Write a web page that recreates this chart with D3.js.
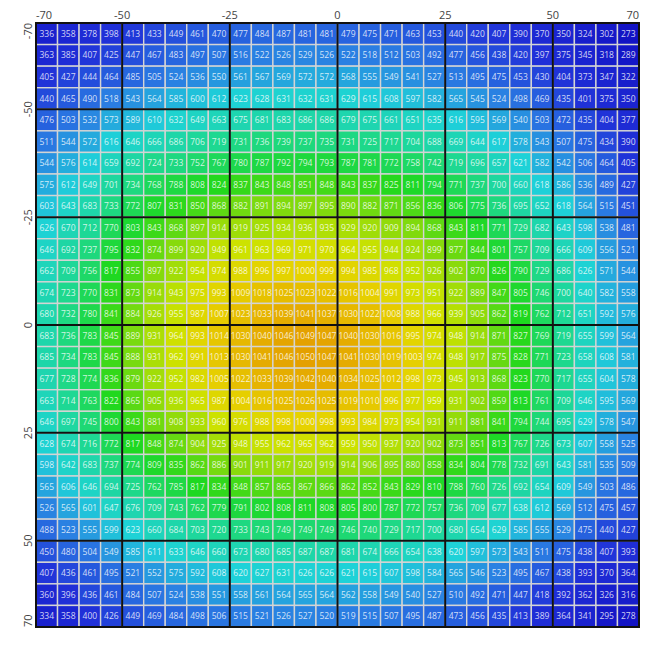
<!DOCTYPE html>
<html>
<head>
<meta charset="utf-8">
<script src="https://cdn.jsdelivr.net/npm/d3@7"></script>
<style>
	body { margin: 0; background: #ffffff; }
	svg { display: block; }
</style>
</head>
<body>
<div id="heat"><svg></svg></div>
<script>
// lower edge of every 5-unit bin, both axes
var x_bins = [-70, -65, -60, -55, -50, -45, -40, -35, -30, -25, -20, -15, -10, -5, 0, 5, 10, 15, 20, 25, 30, 35, 40, 45, 50, 55, 60, 65];
var y_bins = [-70, -65, -60, -55, -50, -45, -40, -35, -30, -25, -20, -15, -10, -5, 0, 5, 10, 15, 20, 25, 30, 35, 40, 45, 50, 55, 60, 65];
var tick_values = [-70, -50, -25, 0, 25, 50, 70];
var major_lines = [-50, -25, 0, 25, 50];

// one array per row, top (-70) to bottom (65)
var row_m70 = [336, 358, 378, 398, 413, 433, 449, 461, 470, 477, 484, 487, 481, 481, 479, 475, 471, 463, 453, 440, 420, 407, 390, 370, 350, 324, 302, 273];
var row_m65 = [363, 385, 407, 425, 447, 467, 483, 497, 507, 516, 522, 526, 529, 526, 522, 518, 512, 503, 492, 477, 456, 438, 420, 397, 375, 345, 318, 289];
var row_m60 = [405, 427, 444, 464, 485, 505, 524, 536, 550, 561, 567, 569, 572, 572, 568, 555, 549, 541, 527, 513, 495, 475, 453, 430, 404, 373, 347, 322];
var row_m55 = [440, 465, 490, 518, 543, 564, 585, 600, 612, 623, 628, 631, 632, 631, 629, 615, 608, 597, 582, 565, 545, 524, 498, 469, 435, 401, 375, 350];
var row_m50 = [476, 503, 532, 573, 589, 610, 632, 649, 663, 675, 681, 683, 686, 686, 679, 675, 661, 651, 635, 616, 595, 569, 540, 503, 472, 435, 404, 377];
var row_m45 = [511, 544, 572, 616, 646, 666, 686, 706, 719, 731, 736, 739, 737, 735, 731, 725, 717, 704, 688, 669, 644, 617, 578, 543, 507, 475, 434, 390];
var row_m40 = [544, 576, 614, 659, 692, 724, 733, 752, 767, 780, 787, 792, 794, 793, 787, 781, 772, 758, 742, 719, 696, 657, 621, 582, 542, 506, 464, 405];
var row_m35 = [575, 612, 649, 701, 734, 768, 788, 808, 824, 837, 843, 848, 851, 848, 843, 837, 825, 811, 794, 771, 737, 700, 660, 618, 586, 536, 489, 427];
var row_m30 = [603, 643, 683, 733, 772, 807, 831, 850, 868, 882, 891, 894, 897, 895, 890, 882, 871, 856, 836, 806, 775, 736, 695, 652, 618, 564, 515, 451];
var row_m25 = [626, 670, 712, 770, 803, 843, 868, 897, 914, 919, 925, 934, 936, 935, 929, 920, 909, 894, 868, 843, 811, 771, 729, 682, 643, 598, 538, 481];
var row_m20 = [646, 692, 737, 795, 832, 874, 899, 920, 949, 961, 963, 969, 971, 970, 964, 955, 944, 924, 899, 877, 844, 801, 757, 709, 666, 609, 556, 521];
var row_m15 = [662, 709, 756, 817, 855, 897, 922, 954, 974, 988, 996, 997, 1000, 999, 994, 985, 968, 952, 926, 902, 870, 826, 790, 729, 686, 626, 571, 544];
var row_m10 = [674, 723, 770, 831, 873, 914, 943, 975, 993, 1009, 1018, 1025, 1023, 1022, 1016, 1004, 991, 973, 951, 922, 889, 847, 805, 746, 700, 640, 582, 558];
var row_m05 = [680, 732, 780, 841, 884, 926, 955, 987, 1007, 1023, 1033, 1039, 1041, 1037, 1030, 1022, 1008, 988, 966, 939, 905, 862, 819, 762, 712, 651, 592, 576];
var row_p00 = [683, 736, 783, 845, 889, 931, 964, 993, 1014, 1030, 1040, 1046, 1049, 1047, 1040, 1030, 1016, 995, 974, 948, 914, 871, 827, 769, 719, 655, 599, 564];
var row_p05 = [685, 734, 783, 845, 888, 931, 962, 991, 1013, 1030, 1041, 1046, 1050, 1047, 1041, 1030, 1019, 1003, 974, 948, 917, 875, 828, 771, 723, 658, 608, 581];
var row_p10 = [677, 728, 774, 836, 879, 922, 952, 982, 1005, 1022, 1033, 1039, 1042, 1040, 1034, 1025, 1012, 998, 973, 945, 913, 868, 823, 770, 717, 655, 604, 578];
var row_p15 = [663, 714, 763, 822, 865, 905, 936, 965, 987, 1004, 1016, 1025, 1026, 1025, 1019, 1010, 996, 977, 959, 931, 902, 859, 813, 761, 709, 646, 595, 569];
var row_p20 = [646, 697, 745, 800, 843, 881, 908, 933, 960, 976, 988, 998, 1000, 998, 993, 984, 973, 954, 931, 911, 881, 841, 794, 744, 695, 629, 578, 547];
var row_p25 = [628, 674, 716, 772, 817, 848, 874, 904, 925, 948, 955, 962, 965, 962, 959, 950, 937, 920, 902, 873, 851, 813, 767, 726, 673, 607, 558, 525];
var row_p30 = [598, 642, 683, 737, 774, 809, 835, 862, 886, 901, 911, 917, 920, 919, 914, 906, 895, 880, 858, 834, 804, 778, 732, 691, 643, 581, 535, 509];
var row_p35 = [565, 606, 646, 694, 725, 762, 785, 817, 834, 848, 857, 865, 867, 866, 862, 852, 843, 829, 810, 788, 760, 726, 692, 654, 609, 549, 503, 486];
var row_p40 = [526, 565, 601, 647, 676, 709, 743, 762, 779, 791, 802, 808, 811, 808, 805, 800, 787, 772, 757, 736, 709, 677, 638, 612, 569, 512, 475, 457];
var row_p45 = [488, 523, 555, 599, 623, 660, 684, 703, 720, 733, 743, 749, 749, 749, 746, 740, 729, 717, 700, 680, 654, 629, 585, 555, 529, 475, 440, 427];
var row_p50 = [450, 480, 504, 549, 585, 611, 633, 646, 660, 673, 680, 685, 687, 687, 681, 674, 666, 654, 638, 620, 597, 573, 543, 511, 475, 438, 407, 393];
var row_p55 = [407, 436, 461, 495, 521, 552, 575, 592, 608, 620, 627, 631, 626, 626, 621, 615, 607, 598, 584, 565, 546, 523, 495, 467, 438, 393, 370, 364];
var row_p60 = [360, 396, 436, 461, 484, 507, 524, 538, 551, 558, 561, 564, 565, 564, 562, 558, 549, 540, 527, 510, 492, 471, 447, 418, 392, 362, 326, 316];
var row_p65 = [334, 358, 400, 426, 449, 469, 484, 498, 506, 515, 521, 526, 527, 520, 519, 515, 507, 495, 487, 473, 456, 435, 413, 389, 364, 341, 295, 278];

var rows = [row_m70, row_m65, row_m60, row_m55, row_m50, row_m45, row_m40, row_m35, row_m30, row_m25,
	row_m20, row_m15, row_m10, row_m05, row_p00, row_p05, row_p10, row_p15, row_p20, row_p25,
	row_p30, row_p35, row_p40, row_p45, row_p50, row_p55, row_p60, row_p65];

var h_width = 669, h_height = 656;
var left = 36, top_ = 23, right = 639, bottom = 627;
var step = 5;

var heat_svg = d3.select("#heat").select("svg")
	.attr("width", h_width)
	.attr("height", h_height);

var heat_x = d3.scaleLinear().domain([-70, 70]).range([left, right]);
var heat_y = d3.scaleLinear().domain([-70, 70]).range([top_, bottom]);

var heat_color = d3.scaleLinear()
	.domain([270, 400, 520, 620, 720, 820, 900, 960, 1000, 1030, 1050])
	.range(["#1212c4", "#2030d8", "#2a7ee2", "#1ed2d8", "#1ed890", "#1ed81e", "#88da0c", "#cce200", "#e6d200", "#e6b800", "#e4a000"])
	.clamp(true);

// flatten the rows into cells
var cells = [];
rows.forEach(function(row, j)
{
	row.forEach(function(v, i)
	{
		cells.push({ x: x_bins[i], y: y_bins[j], v: v });
	});
});

var cell_g = heat_svg.append("g").attr("class", "cells");

cell_g.selectAll("rect")
	.data(cells)
	.enter()
	.append("rect")
	.attr("x", function(d) { return heat_x(d.x); })
	.attr("y", function(d) { return heat_y(d.y); })
	.attr("width", function(d) { return heat_x(d.x + step) - heat_x(d.x); })
	.attr("height", function(d) { return heat_y(d.y + step) - heat_y(d.y); })
	.style("fill", function(d) { return heat_color(d.v); })
	.style("stroke", "#d4d4d4")
	.style("stroke-width", 1.4);

cell_g.selectAll("text")
	.data(cells)
	.enter()
	.append("text")
	.attr("x", function(d) { return (heat_x(d.x) + heat_x(d.x + step)) / 2; })
	.attr("y", function(d) { return (heat_y(d.y) + heat_y(d.y + step)) / 2 + 3; })
	.style("text-anchor", "middle")
	.style("font-family", "'Open Sans', sans-serif")
	.style("font-size", "8.5px")
	.style("fill", "#ffffff")
	.style("fill-opacity", 0.8)
	.text(function(d) { return d.v; });

// thick black lines at the labelled ticks
heat_svg.selectAll(".vline")
	.data(major_lines)
	.enter()
	.append("line")
	.attr("class", "vline")
	.attr("x1", function(d) { return heat_x(d); })
	.attr("x2", function(d) { return heat_x(d); })
	.attr("y1", top_)
	.attr("y2", bottom)
	.style("stroke", "#111")
	.style("stroke-width", 2);

heat_svg.selectAll(".hline")
	.data(major_lines)
	.enter()
	.append("line")
	.attr("class", "hline")
	.attr("y1", function(d) { return heat_y(d); })
	.attr("y2", function(d) { return heat_y(d); })
	.attr("x1", left)
	.attr("x2", right)
	.style("stroke", "#111")
	.style("stroke-width", 2);

heat_svg.append("rect")
	.attr("x", left)
	.attr("y", top_)
	.attr("width", right - left)
	.attr("height", bottom - top_)
	.style("fill", "none")
	.style("stroke", "#111")
	.style("stroke-width", 2);

// axis labels, top and left (rotated)
heat_svg.selectAll(".xlab")
	.data(tick_values)
	.enter()
	.append("text")
	.attr("class", "xlab")
	.attr("x", function(d) { return heat_x(d); })
	.attr("y", 19)
	.style("text-anchor", function(d, i) { return i == 0 ? "start" : (i == tick_values.length - 1 ? "end" : "middle"); })
	.style("font-family", "'Open Sans', sans-serif")
	.style("font-size", "11px")
	.style("fill", "#444")
	.text(function(d) { return d; });

heat_svg.selectAll(".ylab")
	.data(tick_values)
	.enter()
	.append("text")
	.attr("class", "ylab")
	.attr("transform", function(d) { return "translate(32," + heat_y(d) + ") rotate(-90)"; })
	.style("text-anchor", function(d, i) { return i == 0 ? "end" : (i == tick_values.length - 1 ? "start" : "middle"); })
	.style("font-family", "'Open Sans', sans-serif")
	.style("font-size", "11px")
	.style("fill", "#444")
	.text(function(d) { return d; });
</script>
</body>
</html>
